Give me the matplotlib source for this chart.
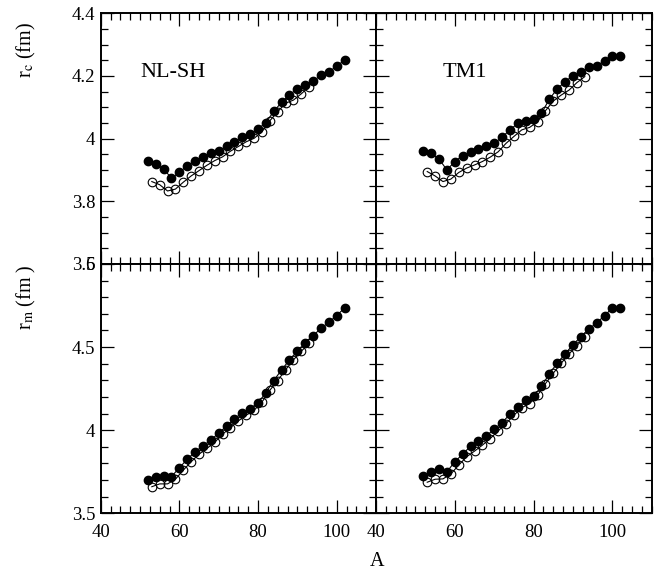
import matplotlib
matplotlib.use("Agg")
import matplotlib.pyplot as plt
from matplotlib.ticker import MultipleLocator, FuncFormatter

plt.rcParams["font.family"] = ["Liberation Serif", "DejaVu Serif"]
plt.rcParams["mathtext.fontset"] = "stix"

# mass numbers: filled symbols (even A), open symbols (odd A)
A_FILLED = [52, 54, 56, 58, 60, 62, 64, 66, 68, 70, 72, 74, 76,
            78, 80, 82, 84, 86, 88, 90, 92, 94, 96, 98, 100, 102]
A_OPEN = [53, 55, 57, 59, 61, 63, 65, 67, 69, 71, 73,
          75, 77, 79, 81, 83, 85, 87, 89, 91, 93]

# charge radii r_c (fm)
RC_NLSH_FILLED = [3.929, 3.919, 3.903, 3.874, 3.892, 3.914, 3.929, 3.943, 3.953,
                  3.962, 3.975, 3.990, 4.005, 4.015, 4.031, 4.051, 4.087, 4.116,
                  4.140, 4.159, 4.170, 4.183, 4.203, 4.212, 4.232, 4.250]
RC_NLSH_OPEN = [3.863, 3.853, 3.833, 3.839, 3.861, 3.881, 3.898, 3.915, 3.930,
                3.942, 3.960, 3.975, 3.990, 4.001, 4.022, 4.057, 4.086, 4.113,
                4.123, 4.143, 4.166]
RC_TM1_FILLED = [3.962, 3.953, 3.935, 3.900, 3.927, 3.946, 3.958, 3.966, 3.975,
                 3.985, 4.005, 4.028, 4.049, 4.057, 4.062, 4.081, 4.126, 4.159,
                 4.182, 4.201, 4.212, 4.228, 4.232, 4.248, 4.265, 4.265]
RC_TM1_OPEN = [3.895, 3.881, 3.863, 3.871, 3.892, 3.906, 3.916, 3.927, 3.941,
               3.958, 3.985, 4.007, 4.028, 4.036, 4.054, 4.089, 4.120, 4.139,
               4.155, 4.179, 4.198]

# matter radii r_m (fm)
RM_NLSH_FILLED = [3.701, 3.717, 3.723, 3.721, 3.774, 3.825, 3.870, 3.906, 3.940,
                  3.984, 4.024, 4.070, 4.104, 4.130, 4.163, 4.226, 4.299, 4.363,
                  4.423, 4.475, 4.523, 4.569, 4.613, 4.649, 4.690, 4.735]
RM_NLSH_OPEN = [3.660, 3.677, 3.677, 3.705, 3.760, 3.810, 3.856, 3.890, 3.928,
                3.976, 4.016, 4.056, 4.090, 4.120, 4.169, 4.240, 4.299, 4.363,
                4.423, 4.475, 4.523]
RM_TM1_FILLED = [3.726, 3.750, 3.765, 3.750, 3.810, 3.856, 3.904, 3.936, 3.966,
                 4.006, 4.046, 4.096, 4.140, 4.180, 4.204, 4.263, 4.340, 4.403,
                 4.459, 4.515, 4.563, 4.609, 4.645, 4.690, 4.735, 4.735]
RM_TM1_OPEN = [3.687, 3.705, 3.707, 3.737, 3.790, 3.840, 3.874, 3.910, 3.950,
               3.996, 4.040, 4.090, 4.136, 4.160, 4.210, 4.280, 4.343, 4.403,
               4.459, 4.509, 4.559]

W, H = 664, 578
X0, XM, X1 = 100.7 / W, 376.0 / W, 651.8 / W
Y1, YM, Y0 = 1 - 13.3 / H, 1 - 264.0 / H, 1 - 513.3 / H

fmt = FuncFormatter(lambda v, p: "%g" % round(v, 3))


def style(ax, ylim, ymaj, ymin, show_x, show_y):
    ax.set_xlim(40, 110)
    ax.set_ylim(*ylim)
    ax.xaxis.set_major_locator(MultipleLocator(20))
    ax.xaxis.set_minor_locator(MultipleLocator(2.5))
    ax.yaxis.set_major_locator(MultipleLocator(ymaj))
    ax.yaxis.set_minor_locator(MultipleLocator(ymin))
    ax.xaxis.set_major_formatter(fmt)
    ax.yaxis.set_major_formatter(fmt)
    ax.tick_params(which="both", direction="in", top=True, right=True,
                   width=0.9, labelsize=13.5, colors="black")
    ax.tick_params(which="major", length=9.5)
    ax.tick_params(which="minor", length=4.7)
    ax.tick_params(axis="x", pad=8)
    ax.tick_params(axis="y", pad=4)
    ax.tick_params(labelbottom=show_x, labelleft=show_y)
    for s in ax.spines.values():
        s.set_linewidth(1.4)


def draw(ax, yf, yo):
    ax.plot(A_OPEN, yo, "-o", color="black", lw=0.8, ms=6.2,
            mfc="none", mec="black", mew=0.8, zorder=2)
    ax.plot(A_FILLED, yf, "-o", color="black", lw=0.8, ms=6.0,
            mfc="black", mec="black", zorder=3)


fig = plt.figure(figsize=(W / 100, H / 100), dpi=100)
ax_tl = fig.add_axes([X0, YM, XM - X0, Y1 - YM])
ax_tr = fig.add_axes([XM, YM, X1 - XM, Y1 - YM])
ax_bl = fig.add_axes([X0, Y0, XM - X0, YM - Y0])
ax_br = fig.add_axes([XM, Y0, X1 - XM, YM - Y0])

draw(ax_tl, RC_NLSH_FILLED, RC_NLSH_OPEN)
draw(ax_tr, RC_TM1_FILLED, RC_TM1_OPEN)
draw(ax_bl, RM_NLSH_FILLED, RM_NLSH_OPEN)
draw(ax_br, RM_TM1_FILLED, RM_TM1_OPEN)

style(ax_tl, (3.6, 4.4), 0.2, 0.05, False, True)
style(ax_tr, (3.6, 4.4), 0.2, 0.05, False, False)
style(ax_bl, (3.5, 5.0), 0.5, 0.1, True, True)
style(ax_br, (3.5, 5.0), 0.5, 0.1, True, False)

ax_tl.text(50, 4.21, "NL-SH", ha="left", va="center", fontsize=16)
ax_tr.text(57, 4.21, "TM1", ha="left", va="center", fontsize=16)

fig.text(26 / W, 1 - 50 / H, r"r$_\mathrm{c}$ (fm)", rotation=90,
         ha="center", va="center", fontsize=14.5)
fig.text(26 / W, 1 - 297 / H, r"r$_\mathrm{m}$ (fm )", rotation=90,
         ha="center", va="center", fontsize=14.5)
fig.text(377 / W, 1 - 561 / H, "A", ha="center", va="center", fontsize=14.5)

fig.savefig("out.png", dpi=100)
